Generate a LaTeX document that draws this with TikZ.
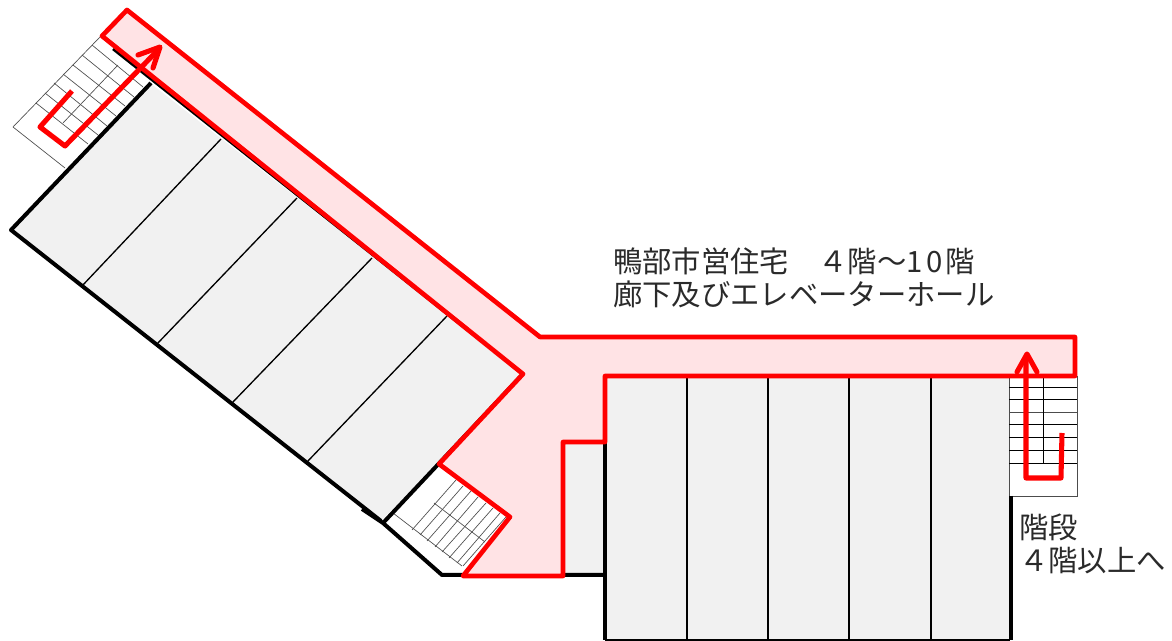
\documentclass[tikz,border=0pt]{standalone}
\usepackage{fontspec}
\setmainfont{Noto Sans CJK JP}
\definecolor{roomgray}{HTML}{F1F1F1}
\definecolor{hallpink}{HTML}{FFE3E5}
\definecolor{txt}{HTML}{2A2A2A}
\tikzset{
  room/.style={fill=roomgray,draw=none},
  wall/.style={draw=black,line width=3pt,line join=round},
  divider/.style={draw=black,line width=1pt},
  stepline/.style={draw=black!70,line width=0.5pt},
  stepdark/.style={draw=black,line width=0.65pt},
  hall/.style={fill=hallpink,draw=red,line width=3.5pt,line join=round},
  route/.style={draw=red,line width=3.8pt,line join=round},
  routehead/.style={draw=red,line width=3.8pt,line join=round,line cap=round},
  label/.style={font=\fontsize{22pt}{24.6pt}\selectfont,text=txt,anchor=west,inner sep=0pt,align=left}
}
\begin{document}
\begin{tikzpicture}[x=0.75pt,y=-0.75pt]
\useasboundingbox (0,0) rectangle (1172,641);
% rooms
\fill[room] (150,83) -- (11,230) -- (381,521) -- (523,374) -- cycle;
\fill[room] (605,376) rectangle (1010,640);
\fill[room] (563,442) rectangle (605,576);
% upper-left stairs
\draw[stepline] (100,37) -- (13,127) -- (65,168);
\foreach \a/\b/\c/\d in {36/103/88/144,45/93/98/135,54/83/107/126,63/74/116/116,73/65/125/106,82/55/134/97,92/45/143/87}
  \draw[stepline] (\a,\b) -- (\c,\d);
\draw[stepline] (63,123) -- (118,65);
% lower stairs
\draw[stepline] (393,513) -- (462,566);
\draw[stepline] (434,503) -- (485,542);
\foreach \a/\b/\c/\d in {412/530/456/480,420/535/463/486,427/541/471/491,435/547/478/497,442/552/486/503,449/558/493/508,457/563/500/513,463/566/506/517}
  \draw[stepline] (\a,\b) -- (\c,\d);
% right stairs
\draw[stepline] (1009,376) -- (1009,496) -- (1077,496) -- (1077,376);
\foreach \y in {387,399,424,437,450,463}
  \draw[stepdark] (1009,\y) -- (1077,\y);
\draw[stepline] (1009,412) -- (1077,412);
\draw[stepdark] (1043,376) -- (1043,463);
% dividers
\foreach \a/\b/\c/\d in {221/139/82/286,297/198/157/344,372/258/232/403,447/316/307/462}
  \draw[divider] (\a,\b) -- (\c,\d);
\foreach \x in {687,768,849,931}
  \draw[divider] (\x,376) -- (\x,640);
\draw[divider] (605,640) -- (1010,640);
% walls
\draw[wall] (151,83) -- (11,230) -- (381,521);
\draw[wall] (362,509) -- (383,523) -- (442,575) -- (605,575);
\draw[wall] (383,523) -- (523,374);
\draw[wall,line width=2pt] (113,49) -- (523,374);
\draw[wall] (605,376) -- (605,640);
\draw[wall] (1011,496) -- (1011,640);
% corridor
\path[hall] (127,10) -- (540,337) -- (1075,337) -- (1075,376) -- (605,376) -- (605,442) -- (563,442) -- (563,576) -- (463,576) -- (510,517) -- (439,464) -- (523,374) -- (102,36) -- cycle;
% routes
\draw[route] (72,91) -- (40,127) -- (65,146) -- (158,50);
\draw[routehead] (138,55) -- (160,47) -- (153,68);
\draw[route] (1062,433) -- (1061,478) -- (1026,478) -- (1026,358);
\draw[routehead] (1017,372) -- (1027,354) -- (1037,372);
% labels
\node[label] (title) at (613,278) {鴨部市営住宅　４階〜1\hspace{2.5pt}0\hspace{2.5pt}階\\廊下及びエレベーターホール};
\node[label] (stairs) at (1019,544) {階段\\４階以上へ};
\end{tikzpicture}
\end{document}
